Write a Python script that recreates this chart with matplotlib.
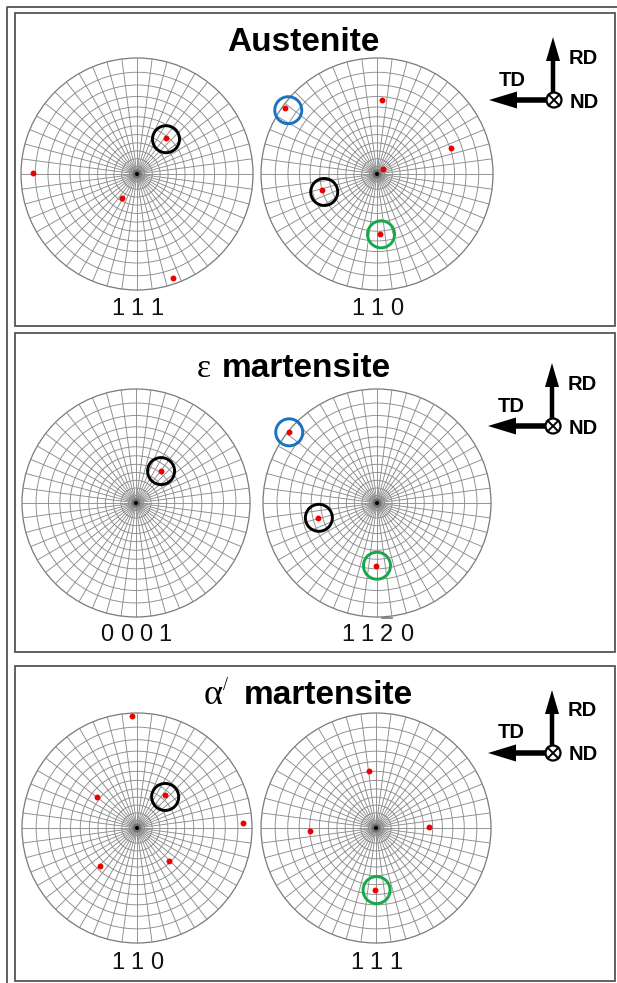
import numpy as np
import matplotlib
matplotlib.use("Agg")
import matplotlib.pyplot as plt
from matplotlib.patches import Circle, Rectangle, FancyArrow

plt.rcParams["font.family"] = ["Liberation Sans", "DejaVu Sans"]

W, H = 617, 983

# panel boxes: top, bottom (pixels)
panel_top = [13, 333, 666]
panel_bottom = [326, 652, 981]

# phase titles
titles = ["Austenite", "martensite", "martensite"]
title_prefix = ["", "ε", "α"]

# pole figure nets: (center x, center y, radius) per panel, left and right
net_left = [(137, 174, 116), (136, 503, 114), (137, 828, 115)]
net_right = [(377, 174, 116), (377, 503, 114), (376, 828, 115)]

# plane labels under each net (digit lists), overbar index or None
labels_left = [["1", "1", "1"], ["0", "0", "0", "1"], ["1", "1", "0"]]
labels_right = [["1", "1", "0"], ["1", "1", "2", "0"], ["1", "1", "1"]]
overbar_right = [None, 2, None]
label_baseline = [315, 641, 969]

# pole positions, normalised to net radius (x right, y up)
poles_left = [
    [(0.25, 0.31), (-0.90, 0.01), (-0.13, -0.21), (0.31, -0.90)],
    [(0.22, 0.28)],
    [(-0.04, 0.97), (-0.35, 0.27), (0.24, 0.29), (0.92, 0.04),
     (-0.32, -0.33), (0.28, -0.29)],
]
poles_right = [
    [(-0.79, 0.57), (0.04, 0.64), (0.64, 0.22), (0.05, 0.04),
     (-0.47, -0.14), (0.03, -0.52)],
    [(-0.77, 0.62), (-0.52, -0.13), (-0.01, -0.55)],
    [(-0.06, 0.50), (-0.57, -0.03), (0.46, 0.01), (-0.01, -0.54)],
]

# highlighted poles: (x, y, colour) normalised like the poles
marks_left = [
    [(0.25, 0.30, "black")],
    [(0.22, 0.28, "black")],
    [(0.245, 0.27, "black")],
]
marks_right = [
    [(-0.765, 0.55, "#1a72c2"), (-0.455, -0.155, "black"), (0.035, -0.52, "#16a84a")],
    [(-0.77, 0.62, "#1a72c2"), (-0.51, -0.13, "black"), (0.0, -0.55, "#16a84a")],
    [(0.005, -0.54, "#16a84a")],
]

# axis icon centre (the ND symbol) per panel
icon_centre = [(554, 100), (553, 426), (553, 753)]

fig = plt.figure(figsize=(W / 100, H / 100), dpi=100)
ax = fig.add_axes([0, 0, 1, 1])
ax.set_xlim(0, W)
ax.set_ylim(H, 0)
ax.set_aspect("equal")
ax.axis("off")

STEP = 7.5  # net spacing in degrees


def draw_net(cx, cy, r):
    grid = dict(color="#8c8c8c", lw=0.65, zorder=1)
    # rings, stereographic spacing
    for psi in np.arange(STEP, 90, STEP):
        rr = r * np.tan(np.radians(psi) / 2)
        ax.add_patch(Circle((cx, cy), rr, fill=False, **grid))
    ax.add_patch(Circle((cx, cy), r, fill=False, color="#7a7a7a", lw=0.9, zorder=1))
    for az in np.arange(0, 360, STEP):
        a = np.radians(az)
        ax.plot([cx, cx + r * np.cos(a)], [cy, cy - r * np.sin(a)], **grid)
    ax.add_patch(Circle((cx, cy), 4.5, color="#444444", alpha=0.4, lw=0, zorder=2))
    ax.add_patch(Circle((cx, cy), 2.0, color="black", lw=0, zorder=2))


def draw_poles(cx, cy, r, poles, marks):
    xs = [cx + px * r for px, py in poles]
    ys = [cy - py * r for px, py in poles]
    ax.scatter(xs, ys, s=18, color="#ee0000", lw=0, zorder=4)
    for mx, my, col in marks:
        ax.add_patch(Circle((cx + mx * r, cy - my * r), 13.5, fill=False,
                            color=col, lw=2.1, zorder=5))


def draw_label(cx, base, digits, bar):
    pitch = 19.5
    n = len(digits)
    for i, d in enumerate(digits):
        x = cx + (i - (n - 1) / 2) * pitch
        ax.text(x, base, d, fontsize=17, ha="center", va="baseline", color="#111111")
        if bar == i:
            ax.plot([x - 5, x + 5], [base - 23, base - 23], color="#777777", lw=1.2)


def draw_icon(x0, y0):
    ax.add_patch(FancyArrow(x0 - 1, y0 - 7, 0, -56, width=4.5, head_width=14,
                            head_length=24, length_includes_head=True,
                            color="black", lw=0, zorder=6))
    ax.add_patch(FancyArrow(x0 - 7, y0, -58, 0, width=5.5, head_width=17,
                            head_length=28, length_includes_head=True,
                            color="black", lw=0, zorder=6))
    ax.add_patch(Circle((x0, y0), 7.5, facecolor="white", edgecolor="black",
                        lw=1.6, zorder=7))
    d = 7.5 * 0.707
    ax.plot([x0 - d, x0 + d], [y0 - d, y0 + d], color="black", lw=1.4, zorder=8)
    ax.plot([x0 - d, x0 + d], [y0 + d, y0 - d], color="black", lw=1.4, zorder=8)
    lab = dict(fontsize=14.5, fontweight="bold", ha="center", va="center", zorder=8)
    ax.text(x0 + 29, y0 - 42, "RD", **lab)
    ax.text(x0 - 42, y0 - 20, "TD", **lab)
    ax.text(x0 + 30, y0 + 2, "ND", **lab)


# outer frame
ax.plot([7, 7, W + 5], [H + 5, 7, 7], color="#555555", lw=1.3)

for k in range(3):
    ax.add_patch(Rectangle((15, panel_top[k]), 600, panel_bottom[k] - panel_top[k],
                           fill=False, edgecolor="#555555", lw=1.3))

    for (cx, cy, r), poles, marks in [(net_left[k], poles_left[k], marks_left[k]),
                                      (net_right[k], poles_right[k], marks_right[k])]:
        draw_net(cx, cy, r)
        draw_poles(cx, cy, r, poles, marks)

    draw_label(net_left[k][0], label_baseline[k], labels_left[k], None)
    draw_label(net_right[k][0], label_baseline[k], labels_right[k], overbar_right[k])
    draw_icon(*icon_centre[k])

# titles
tkw = dict(fontsize=24, fontweight="bold", va="baseline")
ax.text(303, 51, titles[0], ha="center", **tkw)
ax.text(222, 377, titles[1], ha="left", **tkw)
ax.text(211, 377, title_prefix[1], ha="right", va="baseline", fontsize=24,
        family=["Liberation Serif", "DejaVu Serif"])
ax.text(244, 704, titles[2], ha="left", **tkw)
ax.text(223, 704, title_prefix[2], ha="right", va="baseline", fontsize=26,
        family=["Liberation Serif", "DejaVu Serif"])
ax.text(223, 690, "/", ha="left", va="baseline", fontsize=13,
        family=["Liberation Serif", "DejaVu Serif"])

fig.savefig("out.png", dpi=100)
